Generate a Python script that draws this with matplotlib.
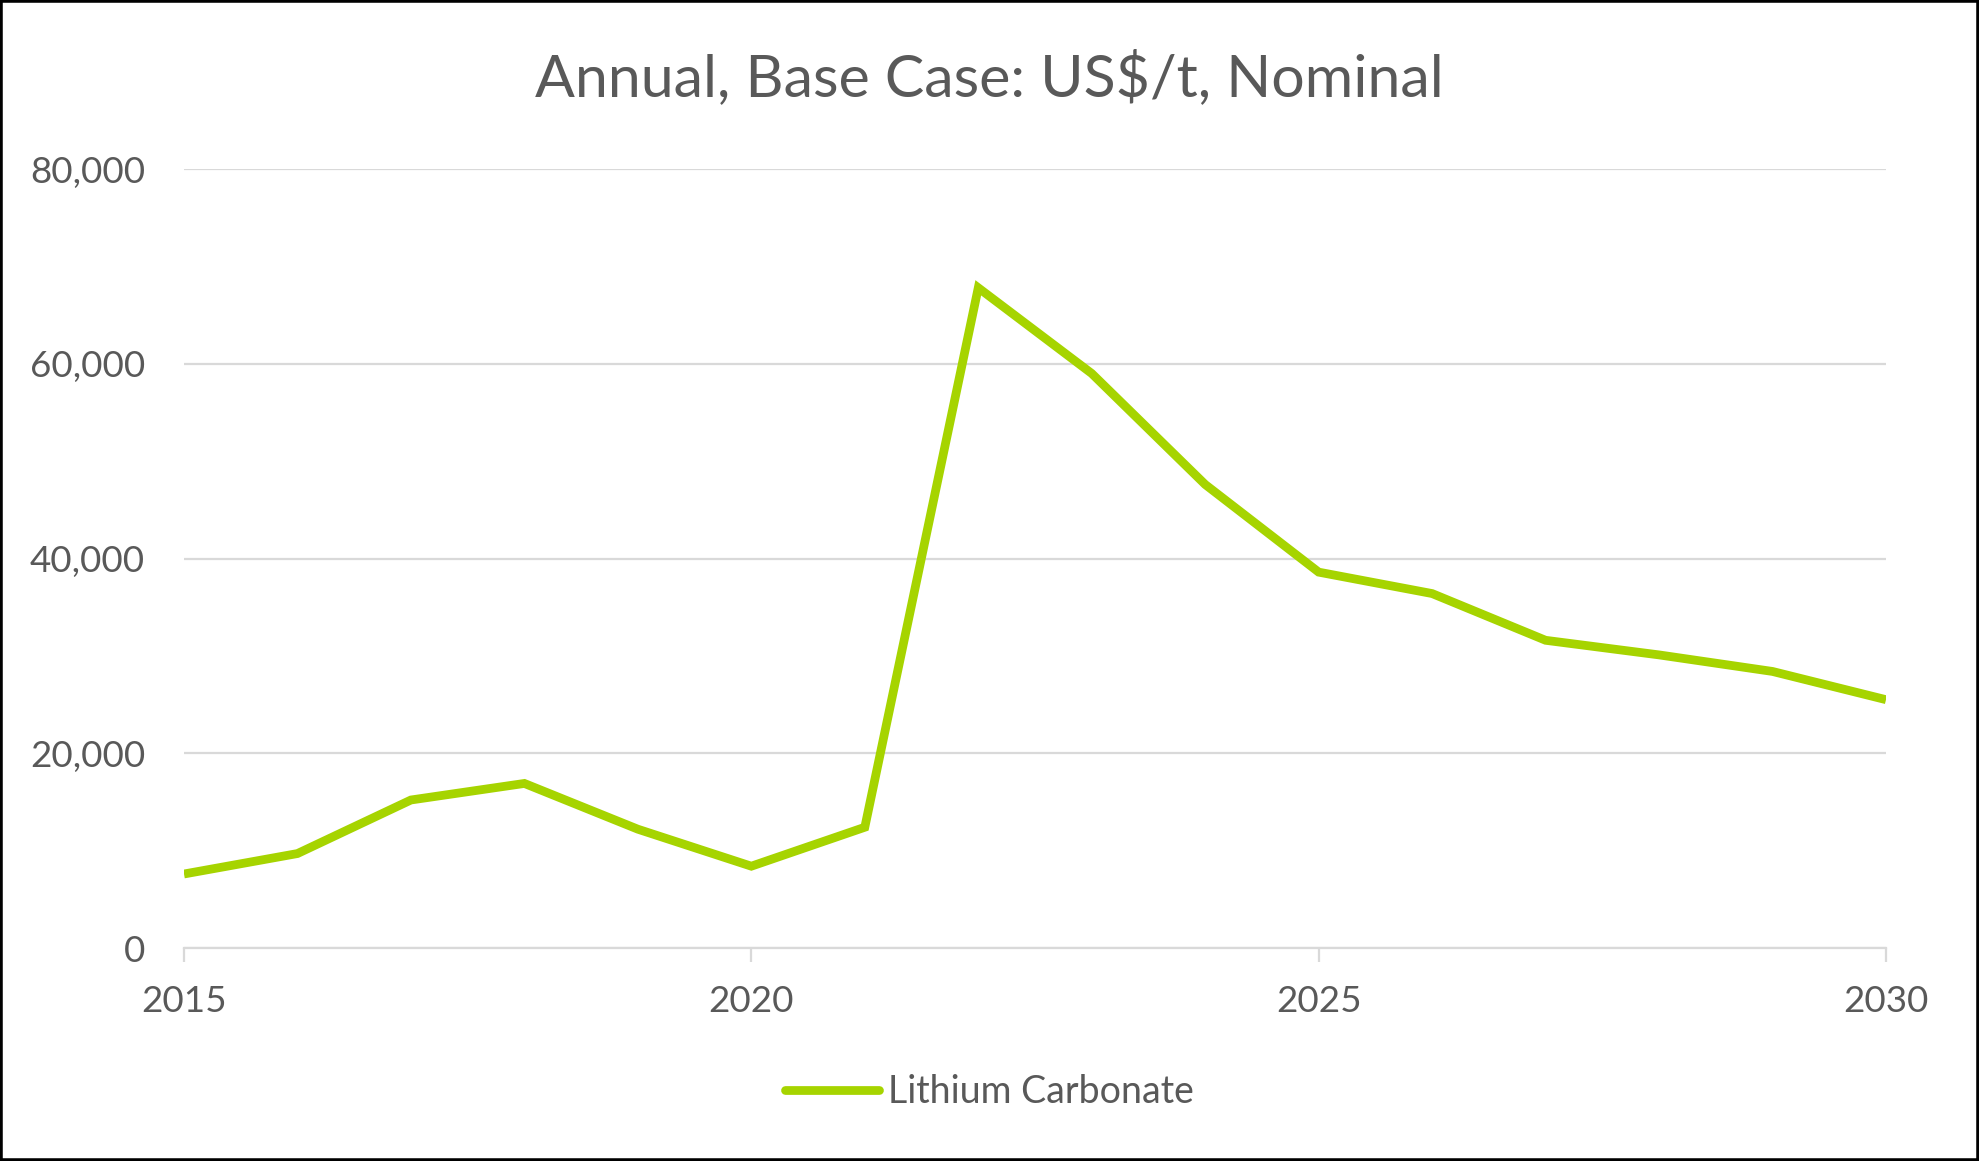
import matplotlib
matplotlib.use("Agg")
import matplotlib.pyplot as plt
from matplotlib.patches import Rectangle
from matplotlib.ticker import FuncFormatter

# values (US$/t, nominal)
years = [2015, 2016, 2017, 2018, 2019, 2020, 2021, 2022,
         2023, 2024, 2025, 2026, 2027, 2028, 2029, 2030]
price = [7600, 9700, 15200, 16900, 12200, 8400, 12400, 67800,
         59000, 47600, 38600, 36400, 31600, 30100, 28400, 25500]
xticks = [2015, 2020, 2025, 2030]
yticks = [0, 20000, 40000, 60000, 80000]
title = "Annual, Base Case: US$/t, Nominal"
series_name = "Lithium Carbonate"

green = "#A6D400"
txt = "#595959"
grid = "#D9D9D9"

plt.rcParams['font.family'] = ['Lato', 'DejaVu Sans']

fig = plt.figure(figsize=(19.79, 11.61), dpi=100)
ax = fig.add_axes([184 / 1979, 1 - 948 / 1161, (1886 - 184) / 1979, (948 - 169) / 1161])

ax.plot(years, price, color=green, lw=6.3, solid_joinstyle='miter', label=series_name,
        solid_capstyle='butt', zorder=3)

ax.set_xlim(2015, 2030)
ax.set_ylim(0, 80000)
ax.set_xticks(xticks)
ax.set_yticks(yticks)
ax.yaxis.set_major_formatter(FuncFormatter(lambda v, p: f"{int(v):,}"))

ax.grid(axis='y', color=grid, lw=1.6, zorder=0)
for s in ['top', 'right', 'left']:
    ax.spines[s].set_visible(False)
ax.spines['bottom'].set_color(grid)
ax.spines['bottom'].set_linewidth(1.6)
ax.tick_params(axis='y', length=0, pad=28, labelsize=26.5, labelcolor=txt)
ax.tick_params(axis='x', length=10, width=1.6, color=grid, pad=17, labelsize=26.5, labelcolor=txt)

fig.text(0.5, 1 - 78 / 1161, title, ha='center', va='center', fontsize=42.5, color=txt)

leg = fig.legend(loc='center', bbox_to_anchor=(0.5, 1 - 1092 / 1161), frameon=False,
                 fontsize=27, handlelength=2.5, handletextpad=0.25)
for t in leg.get_texts():
    t.set_color(txt)
for h in leg.get_lines():
    h.set_solid_capstyle('round')

fig.patches.append(Rectangle((0, 0), 1, 1, transform=fig.transFigure, fill=False,
                             edgecolor='black', lw=4))

fig.savefig("out.png", dpi=100, facecolor='white')
